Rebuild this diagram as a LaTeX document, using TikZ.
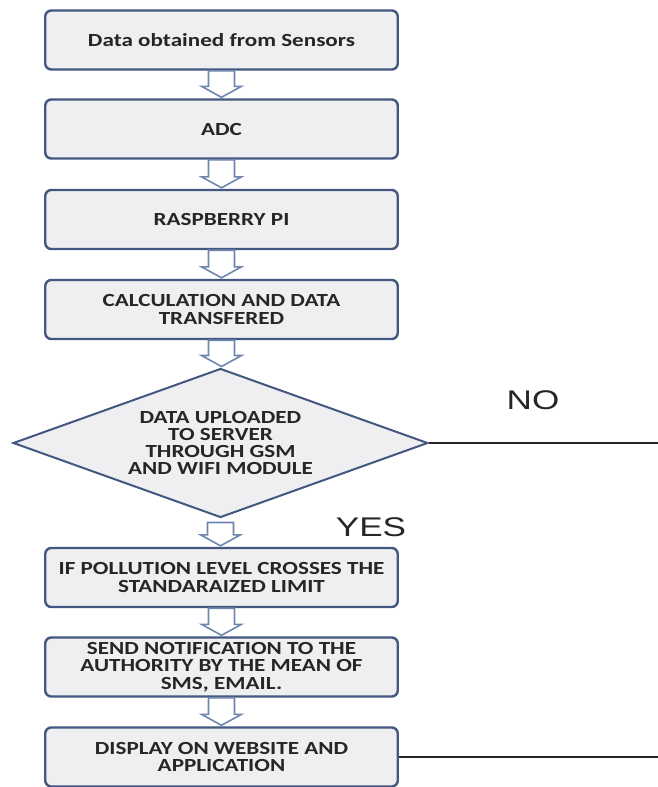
\documentclass[tikz,border=0pt]{standalone}
\usepackage{fontspec}
\setmainfont{Carlito}
\newfontfamily\answerfont{Liberation Sans}
\usetikzlibrary{shapes.geometric,calc}
\definecolor{frame}{HTML}{435780}
\definecolor{paper}{HTML}{EFEFF1}
\definecolor{arrowrim}{HTML}{6F86AE}
\definecolor{ink}{HTML}{262626}

\tikzset{
  stage/.style={draw=frame, fill=paper, line width=2.4pt, rounded corners=6pt,
    minimum width=282pt, minimum height=59pt, inner sep=0pt, align=center,
    text=ink, font=\fontsize{18.5}{17.5}\selectfont\bfseries,
    xscale=1.25, transform shape},
  check/.style={diamond, draw=frame, fill=paper, line width=2pt,
    shape aspect=2.2, minimum width=332pt, minimum height=149pt, inner sep=0pt,
    align=center, text=ink, font=\fontsize{18.5}{17}\selectfont\bfseries,
    xscale=1.25, transform shape},
  answer/.style={text=ink, font=\fontsize{27}{27}\selectfont\answerfont,
    xscale=1.3, transform shape, inner sep=0pt},
  hollow/.style={draw=arrowrim, fill=white, line width=1.6pt, line join=miter},
  feed/.style={draw=ink, line width=1.4pt}
}

% hollow block arrow from one node down to the next
\newcommand{\flowarrow}[3][0]{%
  \draw[hollow] let \p1=(#2.south), \p2=(#3.north) in
    (\x1-13pt,\y1-#1pt) -- (\x1-13pt,\y2+12pt) -- (\x1-20pt,\y2+12pt)
    -- (\x1,\y2+1pt) -- (\x1+20pt,\y2+12pt) -- (\x1+13pt,\y2+12pt)
    -- (\x1+13pt,\y1-#1pt) -- cycle;}

\begin{document}
\begin{tikzpicture}[x=1pt, y=-1pt]
  \useasboundingbox (0,0) rectangle (658,787);

  \node[stage] (sensors) at (221.5,40) {Data obtained from Sensors};
  \node[stage] (adc)     at (221.5,129) {ADC};
  \node[stage] (pi)      at (221.5,219.5) {RASPBERRY PI};
  \node[stage] (calc)    at (221.5,309.5) {CALCULATION AND DATA\\TRANSFERED};
  \node[check] (upload)  at (220.5,443) {DATA UPLOADED\\TO SERVER\\THROUGH GSM\\AND WIFI MODULE};
  \node[stage] (limit)   at (221.5,577.5) {IF POLLUTION LEVEL CROSSES THE\\STANDARAIZED LIMIT};
  \node[stage] (notify)  at (221.5,667) {SEND NOTIFICATION TO THE\\AUTHORITY BY THE MEAN OF\\SMS, EMAIL.};
  \node[stage] (display) at (221.5,757) {DISPLAY ON WEBSITE AND\\APPLICATION};

  \flowarrow{sensors}{adc}
  \flowarrow{adc}{pi}
  \flowarrow{pi}{calc}
  \flowarrow{calc}{upload}
  \flowarrow[4]{upload}{limit}
  \flowarrow{limit}{notify}
  \flowarrow{notify}{display}

  \node[answer] (no)  at (533,400) {NO};
  \node[answer] (yes) at (371,527.5) {YES};

  \coordinate (noend) at (658,443);
  \coordinate (displayend) at (658,757);
  \draw[feed] (upload.east) -- (noend);
  \draw[feed] (display.east) -- (displayend);
\end{tikzpicture}
\end{document}
